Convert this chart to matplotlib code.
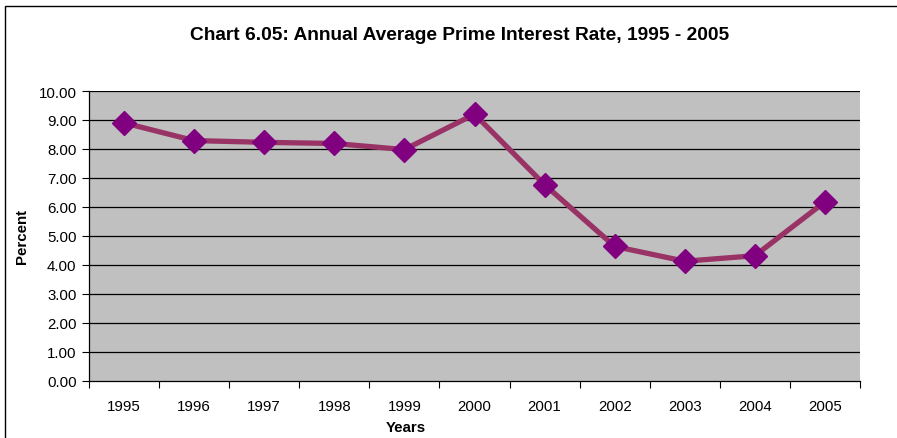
import matplotlib
matplotlib.use("Agg")
import matplotlib.pyplot as plt
from matplotlib.patches import Rectangle
import numpy as np

plt.rcParams['font.family'] = ['Liberation Sans', 'DejaVu Sans']

years = ['1995', '1996', '1997', '1998', '1999', '2000', '2001', '2002', '2003', '2004', '2005']
rates = [8.90, 8.29, 8.23, 8.19, 7.98, 9.20, 6.77, 4.64, 4.13, 4.32, 6.18]
yticks = [0, 1, 2, 3, 4, 5, 6, 7, 8, 9, 10]

W, H = 897, 439
fig = plt.figure(figsize=(W/100, H/100), dpi=100)
fig.patch.set_facecolor('white')

# outer frame (cut off at right/bottom)
fig.add_artist(Rectangle((5/W, -0.05), 1.2, (H-7)/H + 0.05, transform=fig.transFigure,
                         fill=False, edgecolor='black', linewidth=1.0))

ax = fig.add_axes([89/W, (H-382)/H, (860-89)/W, (382-92)/H])
ax.set_facecolor('#C0C0C0')
x = np.arange(len(years))
ax.set_xlim(-0.5, len(years)-0.5)
ax.set_ylim(0, 10)

for yv in yticks[1:]:
    ax.axhline(yv, color='black', linewidth=0.9, zorder=1)

ax.plot(x, rates, color='#993366', linewidth=3.8, zorder=3, solid_joinstyle='round')
ax.plot(x, rates, linestyle='none', marker='D', markersize=12, color='#800080', zorder=4)

ax.set_yticks(yticks)
ax.set_yticklabels([f"{v:.2f}" for v in yticks], fontsize=10.8)
ax.set_xticks(x)
ax.set_xticklabels(years, fontsize=10.8)
ax.tick_params(axis='x', length=0, pad=13)
ax.set_xticks(np.arange(-0.5, len(years)), minor=True)
ax.tick_params(axis='x', which='minor', length=5, direction='out', width=0.8)
ax.tick_params(axis='y', length=5, direction='out', width=0.8, pad=4)

for s in ['top', 'right']:
    ax.spines[s].set_visible(False)
ax.spines['left'].set_linewidth(0.9)
ax.spines['bottom'].set_linewidth(0.9)

fig.text(460/W, 1 - 35/H, 'Chart 6.05: Annual Average Prime Interest Rate, 1995 - 2005',
         ha='center', va='center', fontsize=13.8, fontweight='bold')
fig.text(22/W, 1 - 237/H, 'Percent', rotation=90, ha='center', va='center',
         fontsize=10.8, fontweight='bold')
fig.text(406/W, 1 - 428/H, 'Years', ha='center', va='center', fontsize=10.8, fontweight='bold')

fig.savefig('out.png', dpi=100)
